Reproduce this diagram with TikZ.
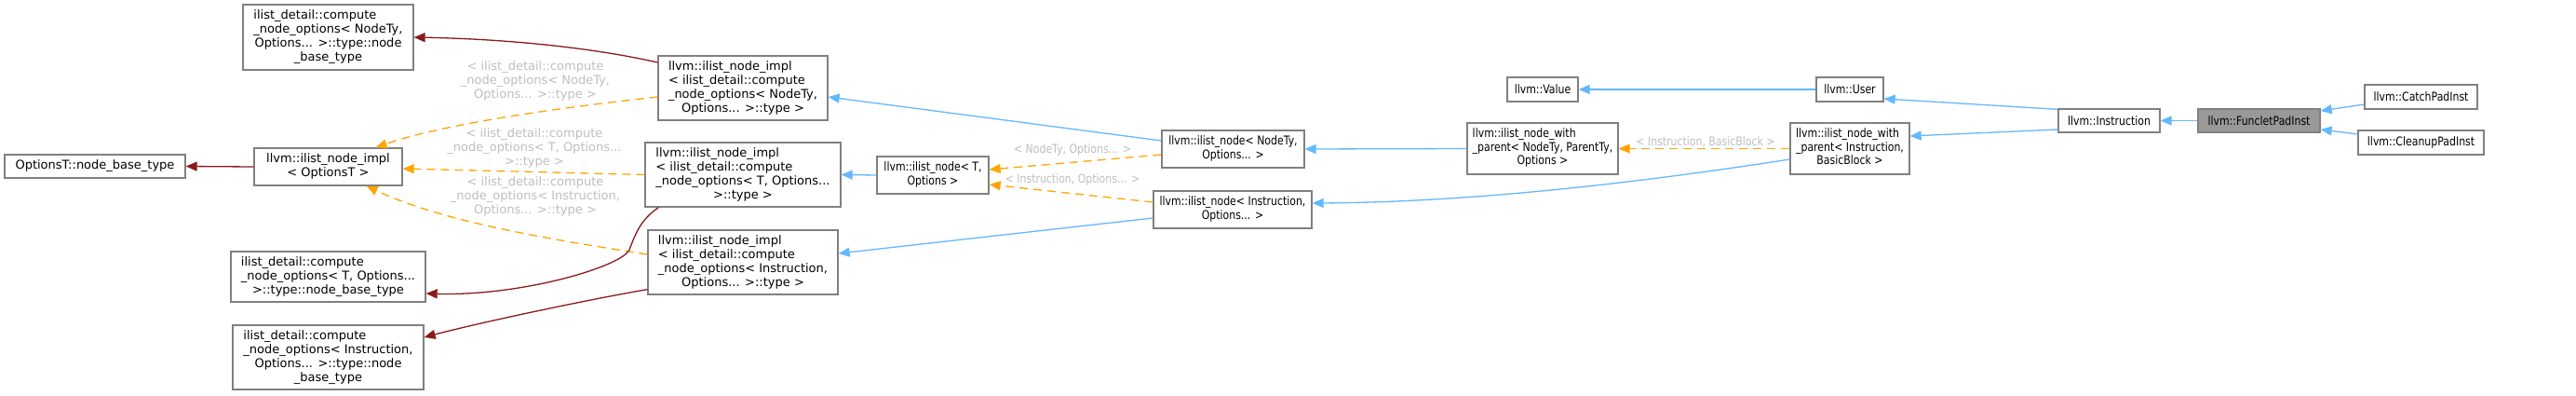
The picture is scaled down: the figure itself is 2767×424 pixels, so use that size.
\documentclass[tikz,border=0pt]{standalone}
\usepackage{fontspec}
\setmainfont{DejaVu Sans}
\newfontfamily\narrowfont{DejaVu Sans}[FakeStretch=0.84]
\usetikzlibrary{arrows.meta,calc}
\definecolor{inhblue}{HTML}{63B8FF}
\definecolor{tmplorange}{HTML}{FFA500}
\definecolor{usedred}{HTML}{8B1A1A}
\definecolor{boxgray}{HTML}{808080}
\definecolor{focusgray}{HTML}{999999}
\definecolor{labgray}{HTML}{BEBEBE}
\newcommand{\doxlab}[1]{\begin{tabular}{@{}l@{}}#1\end{tabular}}
\newcommand{\midline}[1]{\multicolumn{1}{@{}c@{}}{#1}}
\tikzset{
	clsbox/.style={rectangle, draw=boxgray, line width=1.3pt, fill=white, inner sep=0pt,
		font=\fontsize{13}{15}\selectfont},
	narrowbox/.style={clsbox, font=\narrowfont\fontsize{13}{14.5}\selectfont},
	inharr/.style={-{Triangle[length=12pt,width=10pt]}, draw=inhblue, line width=1.3pt},
	tmplarr/.style={-{Triangle[length=12pt,width=10pt]}, draw=tmplorange, line width=1.3pt,
		dash pattern=on 9pt off 6pt},
	usedarr/.style={-{Triangle[length=12pt,width=10pt]}, draw=usedred, line width=1.3pt},
	tmpllab/.style={text=labgray, align=center, inner sep=0pt, font=\fontsize{13}{15}\selectfont},
	narrowlab/.style={tmpllab, font=\narrowfont\fontsize{13}{14.5}\selectfont}
}
\begin{document}
\begin{tikzpicture}[x=1pt,y=-1pt]
	\useasboundingbox (0,0) rectangle (2767,424);
	% left part
	\node[clsbox, minimum width=183pt, minimum height=70pt] (cnoNodeTy) at (352.5,40)
		{\doxlab{ilist\_detail::compute\\\_node\_options< NodeTy,\\\midline{Options... >::type::node}\\\midline{\_base\_type}}};
	\node[clsbox, minimum width=194pt, minimum height=25pt] (optBase) at (102,178.5) {OptionsT::node\_base\_type};
	\node[clsbox, minimum width=159pt, minimum height=40pt] (implOpt) at (352.5,179)
		{\doxlab{llvm::ilist\_node\_impl\\\midline{< OptionsT >}}};
	\node[clsbox, minimum width=209pt, minimum height=54pt] (cnoT) at (352.5,297)
		{\doxlab{ilist\_detail::compute\\\_node\_options< T, Options...\\\midline{>::type::node\_base\_type}}};
	\node[clsbox, minimum width=205pt, minimum height=69pt] (cnoInstr) at (352.5,383.5)
		{\doxlab{ilist\_detail::compute\\\_node\_options< Instruction,\\\midline{Options... >::type::node}\\\midline{\_base\_type}}};
	\node[clsbox, minimum width=182pt, minimum height=69pt] (implNodeTy) at (798,94.5)
		{\doxlab{llvm::ilist\_node\_impl\\< ilist\_detail::compute\\\_node\_options< NodeTy,\\\midline{Options... >::type >}}};
	\node[clsbox, minimum width=210pt, minimum height=69pt] (implT) at (798,187.5)
		{\doxlab{llvm::ilist\_node\_impl\\< ilist\_detail::compute\\\_node\_options< T, Options...\\\midline{>::type >}}};
	\node[clsbox, minimum width=204pt, minimum height=69pt] (implInstr) at (798,281.5)
		{\doxlab{llvm::ilist\_node\_impl\\< ilist\_detail::compute\\\_node\_options< Instruction,\\\midline{Options... >::type >}}};
	% right part
	\node[narrowbox, minimum width=120pt, minimum height=40pt] (nodeT) at (1002,188)
		{\doxlab{llvm::ilist\_node< T,\\\midline{Options >}}};
	\node[narrowbox, minimum width=153pt, minimum height=40pt] (nodeNodeTy) at (1324.5,160)
		{\doxlab{llvm::ilist\_node< NodeTy,\\\midline{Options... >}}};
	\node[narrowbox, minimum width=170pt, minimum height=40pt] (nodeInstr) at (1324,225)
		{\doxlab{llvm::ilist\_node< Instruction,\\\midline{Options... >}}};
	\node[narrowbox, minimum width=76pt, minimum height=26pt] (value) at (1657,96) {llvm::Value};
	\node[narrowbox, minimum width=72pt, minimum height=26pt] (user) at (1987,96) {llvm::User};
	\node[narrowbox, minimum width=162pt, minimum height=55pt] (nwpNodeTy) at (1657,159.5)
		{\doxlab{llvm::ilist\_node\_with\\\_parent< NodeTy, ParentTy,\\\midline{Options >}}};
	\node[narrowbox, minimum width=128pt, minimum height=55pt] (nwpInstr) at (1987,159.5)
		{\doxlab{llvm::ilist\_node\_with\\\_parent< Instruction,\\\midline{BasicBlock >}}};
	\node[narrowbox, minimum width=109pt, minimum height=25pt] (instr) at (2265.5,129.5) {llvm::Instruction};
	\node[narrowbox, fill=focusgray, minimum width=131pt, minimum height=25pt] (funclet) at (2426.5,129.5) {llvm::FuncletPadInst};
	\node[narrowbox, minimum width=121pt, minimum height=26pt] (catchPad) at (2600.5,104) {llvm::CatchPadInst};
	\node[narrowbox, minimum width=135pt, minimum height=26pt] (cleanupPad) at (2600.5,153) {llvm::CleanupPadInst};
	% template labels
	\node[tmpllab] (labImplNodeTy) at (575,87) {< ilist\_detail::compute\\\_node\_options< NodeTy,\\Options... >::type >};
	\node[tmpllab] (labImplT) at (574,159) {< ilist\_detail::compute\\\_node\_options< T, Options...\\>::type >};
	\node[tmpllab] (labImplInstr) at (575,211) {< ilist\_detail::compute\\\_node\_options< Instruction,\\Options... >::type >};
	\node[narrowlab] (labNodeTy) at (1152,161) {< NodeTy, Options... >};
	\node[narrowlab] (labNodeInstr) at (1152,193) {< Instruction, Options... >};
	\node[narrowlab] (labNwp) at (1832,152) {< Instruction, BasicBlock >};
	% inheritance
	\draw[inharr] (funclet.west) -- (instr.east);
	\draw[inharr] ($(catchPad.west)+(0,8)$) -- ($(funclet.east)+(0,-10.5)$);
	\draw[inharr] ($(cleanupPad.west)+(0,-9)$) -- ($(funclet.east)+(0,9.5)$);
	\draw[inharr] ($(instr.north west)+(0,1)$) -- ($(user.east)+(0,10)$);
	\draw[inharr] ($(instr.west)+(0,9.5)$) -- ($(nwpInstr.east)+(0,-13.5)$);
	\draw[inharr] (user.west) -- (value.east);
	\draw[inharr] ($(nwpInstr.west)+(0,11.5)$) .. controls (1800,190) and (1600,217) .. ($(nodeInstr.east)+(0,-7)$);
	\draw[inharr] (nwpNodeTy.west) -- (nodeNodeTy.east);
	\draw[inharr] ($(nodeNodeTy.west)+(0,-9)$) -- ($(implNodeTy.east)+(0,9.5)$);
	\draw[inharr] ($(nodeInstr.west)+(0,9)$) -- ($(implInstr.east)+(0,-9.5)$);
	\draw[inharr] (nodeT.west) -- (implT.east);
	% template instances
	\draw[tmplarr] (nwpInstr.west) -- (nwpNodeTy.east);
	\draw[tmplarr] ($(nodeNodeTy.west)+(0,6)$) -- ($(nodeT.east)+(0,-6)$);
	\draw[tmplarr] ($(nodeInstr.west)+(0,-8)$) -- ($(nodeT.east)+(0,10)$);
	\draw[tmplarr] ($(implNodeTy.west)+(0,9.5)$) .. controls (580,118) and (470,135) .. ($(implOpt.north east)+(-29,0)$);
	\draw[tmplarr] (implT.west) -- ($(implOpt.east)+(0,2)$);
	\draw[tmplarr] ($(implInstr.west)+(0,-8.5)$) .. controls (600,258) and (480,240) .. ($(implOpt.south east)+(-39,0)$);
	% used types
	\draw[usedarr] (implOpt.west) -- (optBase.east);
	\draw[usedarr] ($(implNodeTy.west)+(0,-27.5)$) .. controls (640,52) and (550,42) .. (cnoNodeTy.east);
	\draw[usedarr] ($(implT.south west)+(15,0)$) .. controls (688,236) and (683,250) .. (676,268)
		.. controls (668,286) and (560,318) .. ($(cnoT.east)+(0,18)$);
	\draw[usedarr] ($(implInstr.south west)+(0,-6)$) .. controls (640,320) and (520,345) .. ($(cnoInstr.east)+(0,-21.5)$);
\end{tikzpicture}
\end{document}
